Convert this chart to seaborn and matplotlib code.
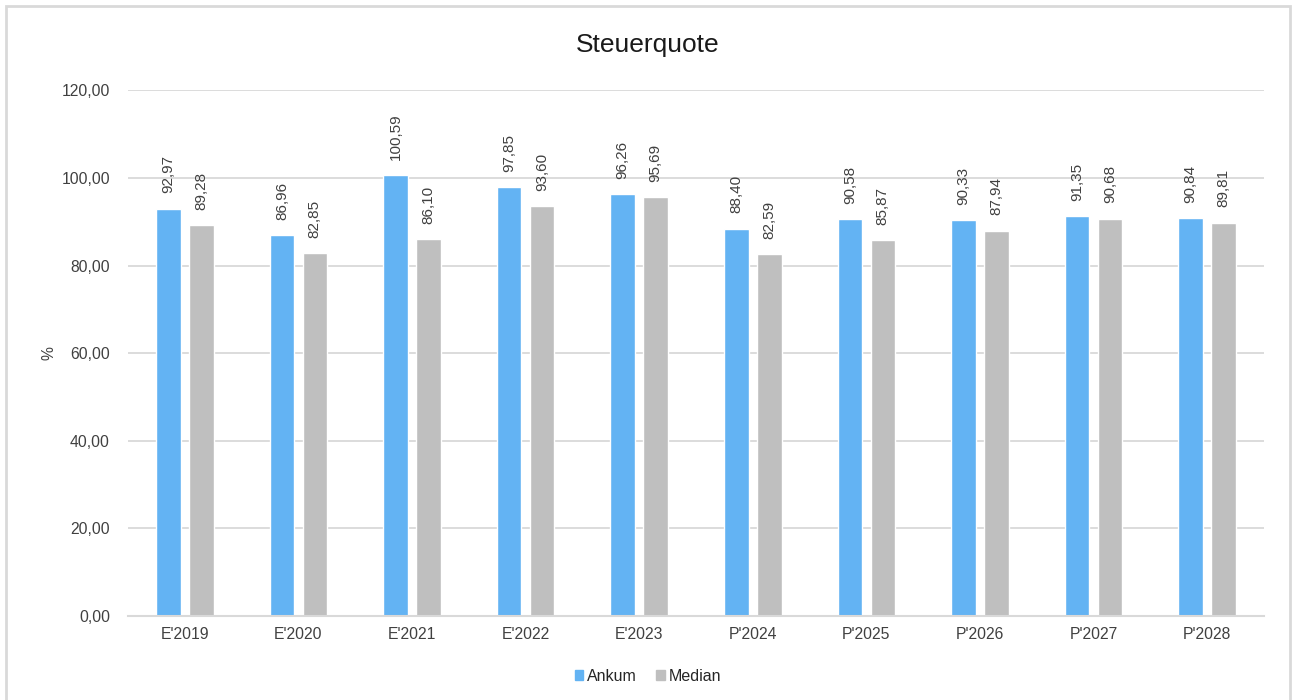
import pandas as pd
import matplotlib.pyplot as plt
import matplotlib.patches as mpatches
from matplotlib.ticker import FuncFormatter
import seaborn as sns

# ---- data ----
years = ["E'2019", "E'2020", "E'2021", "E'2022", "E'2023",
         "P'2024", "P'2025", "P'2026", "P'2027", "P'2028"]
ankum = [92.97, 86.96, 100.59, 97.85, 96.26, 88.40, 90.58, 90.33, 91.35, 90.84]
median = [89.28, 82.85, 86.10, 93.60, 95.69, 82.59, 85.87, 87.94, 90.68, 89.81]

series_names = ["Ankum", "Median"]
colors = {"Ankum": "#63b3f3", "Median": "#bfbfbf"}

df = pd.DataFrame({
    "Jahr": years * 2,
    "Wert": ankum + median,
    "Reihe": ["Ankum"] * len(years) + ["Median"] * len(years),
})

def de_fmt(v, pos=None):
    return f"{v:.2f}".replace(".", ",")

# ---- plot ----
sns.set_style("white")
plt.rcParams["font.family"] = ["Liberation Sans", "DejaVu Sans"]

fig = plt.figure(figsize=(12.96, 7), dpi=100)
ax = fig.add_axes([128 / 1296, 0.12, 1136 / 1296, 0.751])

sns.barplot(
    data=df, x="Jahr", y="Wert", hue="Reihe",
    order=years, hue_order=series_names, palette=colors,
    width=0.58, gap=0.25, saturation=1, ax=ax, legend=False,
)

for cont in ax.containers:
    ax.bar_label(cont, labels=[de_fmt(v) for v in cont.datavalues],
                 rotation=90, padding=11, fontsize=11, color="#404040")

ax.set_ylim(0, 120)
ax.set_yticks(range(0, 121, 20))
ax.yaxis.set_major_formatter(FuncFormatter(de_fmt))
ax.grid(axis="y", color="#d9d9d9", linewidth=1.3)
ax.set_axisbelow(True)
for side in ["top", "right", "left"]:
    ax.spines[side].set_visible(False)
ax.spines["bottom"].set_color("#d9d9d9")
ax.spines["bottom"].set_linewidth(1.5)
ax.tick_params(axis="both", length=0, labelsize=11.3, colors="#404040", pad=8)
ax.tick_params(axis="y", pad=13)
ax.set_xlabel("")
ax.set_ylabel("%", fontsize=11.3, color="#404040")
ax.yaxis.set_label_coords((56 - 128) / 1136, 0.5)

# title centred on the whole chart
fig.text(0.5, 1 - 45 / 700, "Steuerquote", ha="center", va="center",
         fontsize=19, color="#1a1a1a")

handles = [mpatches.Patch(color=colors[n], label=n) for n in series_names]
fig.legend(handles=handles, loc="center", bbox_to_anchor=(0.5, 0.034), ncol=2,
           frameon=False, fontsize=11.5, handlelength=0.55, handleheight=0.55,
           handletextpad=0.25, columnspacing=1.2, labelcolor="#262626")

# chart border
fig.patches.append(mpatches.Rectangle((6 / 1296, -0.01), 1284 / 1296, 1 - 6 / 700 + 0.01,
                                      transform=fig.transFigure, fill=False,
                                      edgecolor="#d9d9d9", linewidth=2))

fig.savefig("out.png", dpi=100)
